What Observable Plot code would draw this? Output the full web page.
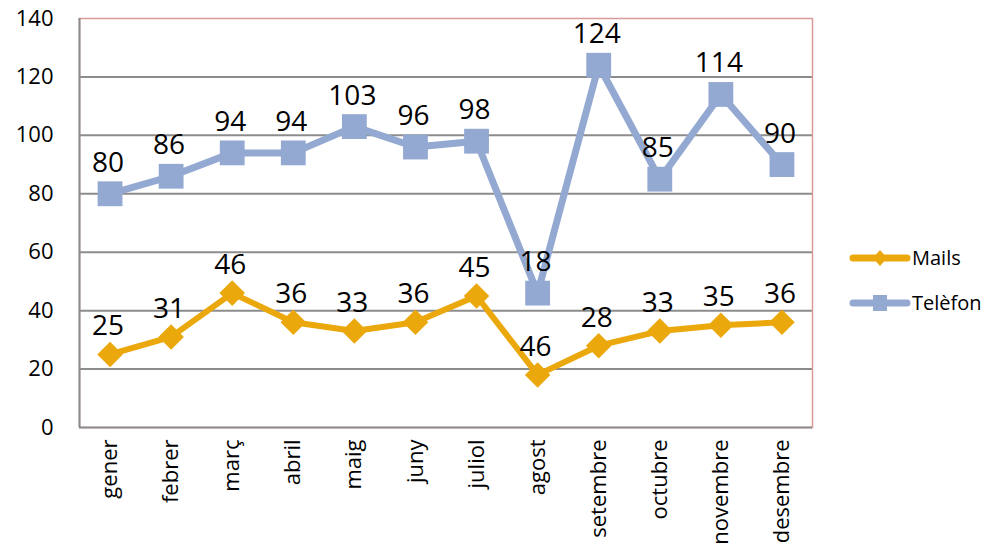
<!DOCTYPE html>
<html>
<head>
<meta charset="utf-8">
<script src="https://cdn.jsdelivr.net/npm/d3@7"></script>
<script src="https://cdn.jsdelivr.net/npm/@observablehq/plot@0.6"></script>
<style>
  body { margin: 0; background: #fff; }
  #wrap { position: relative; width: 997px; height: 554px; font-family: "Open Sans", sans-serif; }
  #legend { position: absolute; left: 849px; top: 235px; font-size: 20px; color: #000; }
  .item { display: flex; align-items: center; height: 45px; }
  .item svg { margin-right: 1px; }
</style>
</head>
<body>
<div id="wrap"><div id="legend"></div></div>
<script>
const months = ["gener","febrer","març","abril","maig","juny","juliol","agost","setembre","octubre","novembre","desembre"];
const mails = [25,31,46,36,33,36,45,18,28,33,35,36];
const telefon = [80,86,94,94,103,96,98,46,124,85,114,90];
const mailsLabels = ["25","31","46","36","33","36","45","46","28","33","35","36"];
const telefonLabels = ["80","86","94","94","103","96","98","18","124","85","114","90"];
const yTicks = [0,20,40,60,80,100,120,140];
const seriesNames = ["Mails","Telèfon"];

const orange = "#EBA80C";
const blue = "#94A9D2";
const gridGray = "#8c8c8c";
const pink = "#D99A9A";

const mailsData = months.map((m, i) => ({i, v: mails[i], label: mailsLabels[i]}));
const telData = months.map((m, i) => ({i, v: telefon[i], label: telefonLabels[i]}));
const xDomain = [-0.5, months.length - 0.5];

const chart = Plot.plot({
  width: 997,
  height: 554,
  marginTop: 18,
  marginBottom: 127,
  marginLeft: 79,
  marginRight: 185,
  x: {type: "linear", domain: xDomain},
  y: {domain: [0, 140]},
  style: {fontFamily: "'Open Sans', sans-serif", fontSize: "22px", color: "#000", background: "transparent", overflow: "visible"},
  marks: [
    Plot.ruleY(yTicks.slice(1, -1), {stroke: gridGray, strokeWidth: 2}),
    Plot.frame({stroke: pink, strokeWidth: 1.5}),
    Plot.ruleY([0], {stroke: gridGray, strokeWidth: 2}),
    Plot.ruleX([xDomain[0]], {stroke: gridGray, strokeWidth: 2}),
    Plot.axisY({ticks: yTicks, tickSize: 0, tickPadding: 26, tickFormat: d => d, label: null, fontSize: 22}),
    Plot.axisX({ticks: d3.range(months.length), tickFormat: i => months[i], tickRotate: -90, tickSize: 0, tickPadding: 12, label: null, fontSize: 22}),
    Plot.line(mailsData, {x: "i", y: "v", stroke: orange, strokeWidth: 6}),
    Plot.dot(mailsData, {x: "i", y: "v", symbol: "diamond2", r: 11.5, fill: orange, stroke: "none"}),
    Plot.line(telData, {x: "i", y: "v", stroke: blue, strokeWidth: 7}),
    Plot.dot(telData, {x: "i", y: "v", symbol: "square", r: 14, fill: blue, stroke: "none"}),
    Plot.text(mailsData, {x: "i", y: "v", text: "label", dy: -28, dx: -2, fontSize: 28, fill: "#000"}),
    Plot.text(telData, {x: "i", y: "v", text: "label", dy: -31, dx: -2, fontSize: 28, fill: "#000"})
  ]
});
document.getElementById("wrap").prepend(chart);

// legend
const legend = d3.select("#legend");
const colors = [orange, blue];
const syms = ["diamond", "square"];
seriesNames.forEach((name, k) => {
  const item = legend.append("div").attr("class", "item");
  const s = item.append("svg").attr("width", 62).attr("height", 22);
  s.append("line").attr("x1", 4).attr("x2", 58).attr("y1", 11).attr("y2", 11)
    .attr("stroke", colors[k]).attr("stroke-width", 7).attr("stroke-linecap", "round");
  if (syms[k] === "square") {
    s.append("rect").attr("x", 24).attr("y", 3).attr("width", 14).attr("height", 16).attr("fill", colors[k]);
  } else {
    s.append("path").attr("d", "M31,3L38,11L31,19L24,11Z").attr("fill", colors[k]);
  }
  item.append("span").text(name);
});
</script>
</body>
</html>
